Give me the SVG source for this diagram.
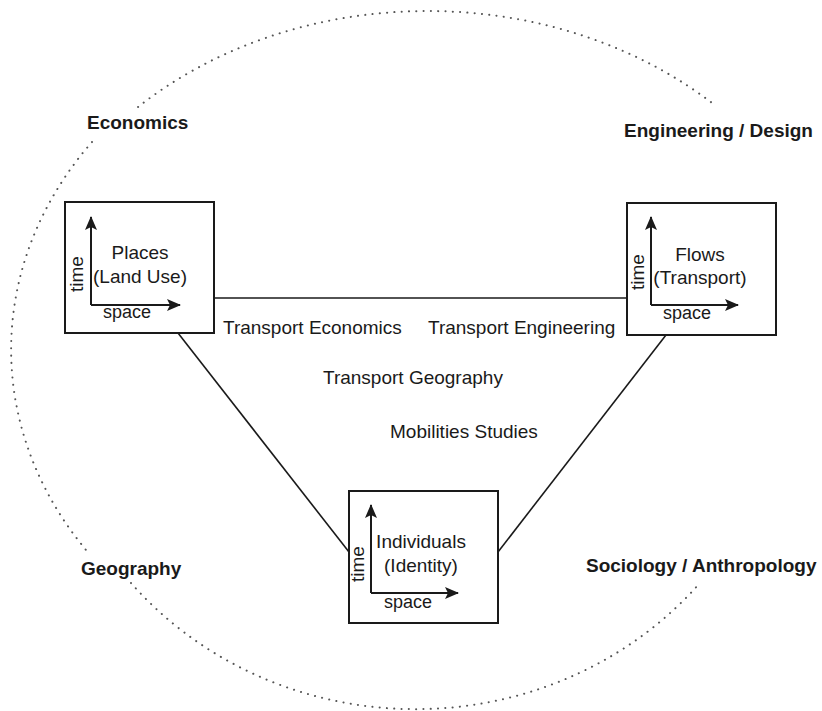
<svg xmlns="http://www.w3.org/2000/svg" width="822" height="711" viewBox="0 0 822 711">
<style>
.box{fill:none;stroke:#1a1a1a;stroke-width:2}
.ax{fill:none;stroke:#1a1a1a;stroke-width:2;marker-end:url(#ah)}
.conn{fill:none;stroke:#1a1a1a;stroke-width:1.6}
.dot{fill:none;stroke:#555;stroke-width:2;stroke-linecap:round;stroke-dasharray:0.1 7.2}
.t{font-family:"Liberation Sans",Arial,sans-serif;font-size:19px;fill:#1a1a1a}
.s{font-family:"Liberation Sans",Arial,sans-serif;font-size:18px;fill:#1a1a1a}
.b{font-family:"Liberation Sans",Arial,sans-serif;font-size:19px;font-weight:bold;fill:#1a1a1a}
.m{text-anchor:middle}
</style>
<defs>
<marker id="ah" viewBox="0 0 14 12" refX="13" refY="6" markerWidth="14" markerHeight="12" markerUnits="userSpaceOnUse" orient="auto">
<path d="M0,0 L14,6 L0,12 L3,6 z" fill="#1a1a1a"/>
</marker>
</defs>
<rect width="822" height="711" fill="#fff"/>
<g id="boundary">
<path class="dot" d="M138,107 A420,348 0 0 1 716,106"/>
<path class="dot" d="M92,142 A410,348 0 0 0 86,550"/>
<path class="dot" d="M131,583 A370,350 0 0 0 699,584"/>
</g>
<g id="connectors">
<line class="conn" x1="214" y1="298" x2="627" y2="298"/>
<line class="conn" x1="178" y1="333" x2="349" y2="552"/>
<line class="conn" x1="666" y1="335" x2="498" y2="552"/>
</g>
<g id="places">
<rect class="box" x="65" y="202" width="149" height="131"/>
<path class="ax" d="M91,305 V217"/>
<path class="ax" d="M91,305 H180"/>
<text class="t m" x="140" y="259">Places</text>
<text class="t m" x="140" y="283">(Land Use)</text>
<text class="t m" transform="translate(83,274) rotate(-90)">time</text>
<text class="s m" x="127" y="318">space</text>
</g>
<g id="flows">
<rect class="box" x="627" y="203" width="149" height="132"/>
<path class="ax" d="M651,305 V217"/>
<path class="ax" d="M651,305 H738"/>
<text class="t m" x="700" y="261">Flows</text>
<text class="t m" x="700" y="284">(Transport)</text>
<text class="t m" transform="translate(644,272) rotate(-90)">time</text>
<text class="s m" x="687" y="319">space</text>
</g>
<g id="individuals">
<rect class="box" x="349" y="491" width="149" height="132"/>
<path class="ax" d="M371,593 V505"/>
<path class="ax" d="M371,593 H458"/>
<text class="t m" x="421" y="548">Individuals</text>
<text class="t m" x="421" y="572">(Identity)</text>
<text class="t m" transform="translate(364,564) rotate(-90)">time</text>
<text class="s m" x="408" y="608">space</text>
</g>
<g id="labels">
<text class="t" x="223" y="334">Transport Economics</text>
<text class="t" x="428" y="334">Transport Engineering</text>
<text class="t" x="323" y="384">Transport Geography</text>
<text class="t" x="390" y="438">Mobilities Studies</text>
</g>
<g id="disciplines">
<text class="b" x="87" y="129">Economics</text>
<text class="b" x="624" y="137">Engineering / Design</text>
<text class="b" x="81" y="575">Geography</text>
<text class="b" x="586" y="572">Sociology / Anthropology</text>
</g>
</svg>
